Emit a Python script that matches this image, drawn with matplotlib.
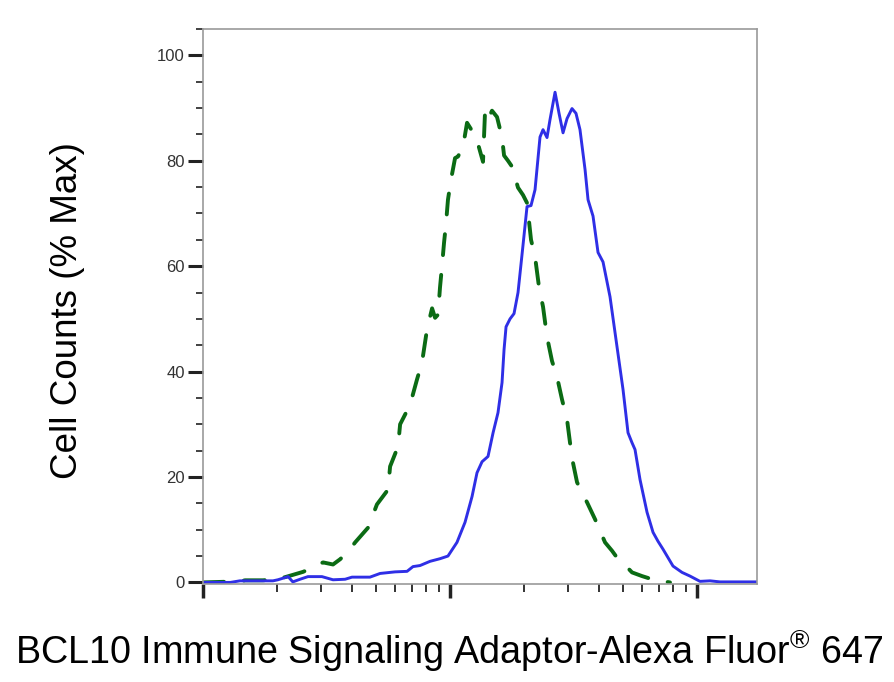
import numpy as np
import matplotlib
matplotlib.use('Agg')
import matplotlib.pyplot as plt
from matplotlib.ticker import LogLocator, NullFormatter, MultipleLocator

plt.rcParams['font.family'] = ['Liberation Sans', 'DejaVu Sans']
plt.rcParams['mathtext.fontset'] = 'custom'
plt.rcParams['mathtext.rm'] = 'Liberation Sans'

# stained sample (blue, solid)
blue_x = [100, 129, 141, 192, 201, 221, 231, 247, 266, 303, 336, 376, 401, 474, 521,
          599, 670, 708, 756, 830, 911, 981, 1067, 1150, 1228, 1286, 1348, 1425, 1494,
          1564, 1624, 1655, 1686, 1750, 1816, 1885, 1975, 2050, 2128, 2209, 2314, 2380,
          2470, 2540, 2662, 2763, 2868, 2977, 3118, 3236, 3359, 3522, 3621, 3793, 3974,
          4164, 4444, 4744, 5017, 5256, 5456, 5611, 5879, 6276, 6637, 6952, 7284, 7631,
          7995, 8696, 9369, 10283, 11288, 12389, 17500]
blue_y = [0, 0, 0.3, 0.3, 0.5, 1.1, 0.1, 0.6, 1.1, 1.1, 0.5, 0.6, 1.0, 1.0, 1.7,
          2.0, 2.1, 3.0, 3.2, 4.0, 4.5, 5.0, 7.6, 11.4, 16.3, 20.8, 22.9, 23.9, 28.4,
          32.2, 37.9, 44.2, 48.5, 50.0, 51.0, 55, 64, 71.3, 71.5, 74.5, 84.5, 85.9,
          84.4, 87.8, 93.0, 89, 85.3, 88, 89.9, 89, 85.9, 78.3, 72.6, 69.5, 62.6,
          60.8, 54.2, 44.7, 36.6, 28.4, 26.5, 25.2, 19.5, 13.3, 9.5, 7.8, 6.3, 4.7,
          3.1, 1.9, 1.2, 0.2, 0.3, 0.1, 0.1]

# isotype control (green, dashed)
green_x = [100, 141, 148, 175, 196, 215, 254, 284, 306, 336, 359, 386, 413, 466, 506,
           561, 572, 616, 628, 689, 735, 770, 807, 846, 870, 894, 911, 928, 946, 963,
           981, 1009, 1048, 1077, 1129, 1172, 1216, 1262, 1298, 1360, 1386, 1425, 1479,
           1550, 1624, 1655, 1717, 1782, 1885, 1975, 2050, 2128, 2209, 2293, 2380, 2470,
           2588, 2712, 2841, 2977, 3061, 3147, 3268, 3423, 3587, 3864, 4050, 4242, 4529,
           4744, 5110, 5456, 5990, 6574, 7085, 7775]
green_y = [0, 0.2, 0.4, 0.4, 0.6, 1.0, 2.0, 3.0, 3.8, 3.4, 4.4, 5.8, 7.6, 10.4, 14.8,
           17.6, 22, 25.8, 30, 33.7, 38.5, 41.7, 48, 52, 50.2, 50.8, 56, 60, 64.5, 68,
           72.6, 76.4, 80.5, 80.8, 82.7, 87.2, 86, 84.5, 83.2, 79.8, 89.3, 87.8, 89.5,
           88.3, 84.4, 81, 80, 78.9, 74.9, 73.5, 72, 65, 61.8, 56, 52.3, 46.6,
           42, 39, 34.7, 30.9, 26.5, 22.7, 19, 17, 15.2, 12, 9.8, 7.6, 6.0,
           4.7, 3.3, 1.9, 1.2, 0.6, 0.3, 0]

y_ticks = [0, 20, 40, 60, 80, 100]

fig = plt.figure(figsize=(8.94, 6.82), dpi=100)
ax = fig.add_axes([0.2271, 0.1437, 0.6197, 0.8138])

ax.plot(green_x, green_y, color='#0b6b14', lw=2.8, linestyle=(0, (5.4, 5.1)),
        solid_capstyle='round', dash_capstyle='round')
ax.plot(blue_x, blue_y, color='#2f2fe6', lw=2.1, solid_joinstyle='round')

ax.set_xscale('log')
ax.set_xlim(100, 17500)
ax.set_ylim(-0.3, 105)

ax.xaxis.set_major_locator(LogLocator(base=10, numticks=10))
ax.xaxis.set_minor_locator(LogLocator(base=10, subs=np.arange(2, 10), numticks=20))
ax.xaxis.set_major_formatter(NullFormatter())
ax.xaxis.set_minor_formatter(NullFormatter())
ax.set_yticks(y_ticks)
ax.yaxis.set_minor_locator(MultipleLocator(5))

ax.tick_params(axis='y', which='major', length=11, width=2.2, color='#222222',
               labelsize=12, labelcolor='#333333', pad=2)
ax.tick_params(axis='y', which='minor', length=5, width=1.3, color='#333333')
ax.tick_params(axis='x', which='major', length=10, width=2.5, color='#222222')
ax.tick_params(axis='x', which='minor', length=6, width=1.4, color='#333333')

for s in ax.spines.values():
    s.set_color('#9a9a9a')
    s.set_linewidth(1.2)

fig.text(68 / 894, 1 - 311 / 682, 'Cell Counts (% Max)', rotation=90,
         ha='center', va='center', fontsize=26.5)
fig.text(449 / 894, 1 - 651 / 682, r'BCL10 Immune Signaling Adaptor-Alexa Fluor$^{\mathrm{®}}$ 647',
         ha='center', va='center', fontsize=27.2)

fig.savefig('out.png', dpi=100)
